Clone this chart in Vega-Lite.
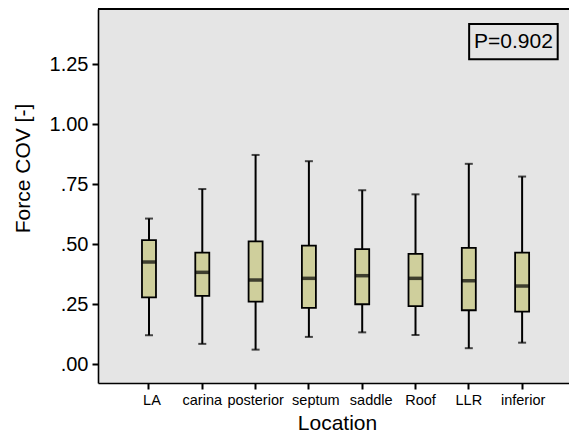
{
  "$schema": "https://vega.github.io/schema/vega-lite/v6.json",
  "width": 471,
  "height": 374,
  "autosize": {"type": "none"},
  "padding": {"left": 98, "top": 9, "right": 0, "bottom": 55},
  "background": "white",
  "config": {
    "font": "Liberation Sans",
    "view": {"fill": "#e5e5e5", "stroke": null},
    "axis": {"grid": false, "domainColor": "black", "domainWidth": 1.6, "tickColor": "black", "tickWidth": 2, "tickSize": 6, "labelColor": "black", "titleColor": "black", "titleFontWeight": "normal", "labelFont": "Liberation Sans", "titleFont": "Liberation Sans"}
  },
  "data": {
    "values": [
      {"loc": "LA", "min": 0.121, "q1": 0.279, "median": 0.426, "q3": 0.517, "max": 0.607},
      {"loc": "carina", "min": 0.085, "q1": 0.285, "median": 0.383, "q3": 0.465, "max": 0.730},
      {"loc": "posterior", "min": 0.061, "q1": 0.261, "median": 0.351, "q3": 0.512, "max": 0.872},
      {"loc": "septum", "min": 0.114, "q1": 0.235, "median": 0.358, "q3": 0.494, "max": 0.846},
      {"loc": "saddle", "min": 0.133, "q1": 0.250, "median": 0.369, "q3": 0.480, "max": 0.725},
      {"loc": "Roof", "min": 0.122, "q1": 0.242, "median": 0.358, "q3": 0.460, "max": 0.708},
      {"loc": "LLR", "min": 0.067, "q1": 0.225, "median": 0.348, "q3": 0.485, "max": 0.835},
      {"loc": "inferior", "min": 0.090, "q1": 0.219, "median": 0.326, "q3": 0.465, "max": 0.782}
    ]
  },
  "layer": [
    {
      "layer": [
        {
          "mark": {"type": "rule", "color": "black", "strokeWidth": 2},
          "encoding": {
            "x": {"field": "loc", "type": "nominal", "sort": null,
                  "scale": {"paddingInner": 0, "paddingOuter": 0.418, "align": 0.546},
                  "axis": {"title": "Location", "labelAngle": 0, "labelFontSize": 14.5, "labelPadding": 4,
                           "labelOffset": {"condition": [
                             {"test": "datum.value === 'LA'", "value": 3},
                             {"test": "datum.value === 'septum'", "value": 7},
                             {"test": "datum.value === 'saddle'", "value": 9},
                             {"test": "datum.value === 'Roof'", "value": 5},
                             {"test": "datum.value === 'inferior'", "value": 1}
                           ], "value": 0},
                           "titleFontSize": 21, "titleX": 239, "titleY": 46, "titleBaseline": "alphabetic", "titleAnchor": null, "titleAlign": "center"}},
            "y": {"field": "min", "type": "quantitative",
                  "scale": {"domain": [-0.078, 1.48], "nice": false, "zero": false},
                  "axis": {"title": "Force COV [-]", "values": [0, 0.25, 0.5, 0.75, 1, 1.25],
                           "labelExpr": "datum.value < 1 ? replace(format(datum.value, '.2f'), '0.', '.') : format(datum.value, '.2f')",
                           "labelFontSize": 20, "labelPadding": 4, "titleFontSize": 21, "titleAngle": -90, "titleX": -75, "titleY": 159, "titleAlign": "center", "titleBaseline": "middle", "titleAnchor": null}},
            "y2": {"field": "max"}
          }
        },
        {
          "mark": {"type": "tick", "color": "black", "size": 8, "thickness": 2},
          "encoding": {"x": {"field": "loc", "type": "nominal", "sort": null}, "y": {"field": "min", "type": "quantitative"}}
        },
        {
          "mark": {"type": "tick", "color": "black", "size": 8, "thickness": 2},
          "encoding": {"x": {"field": "loc", "type": "nominal", "sort": null}, "y": {"field": "max", "type": "quantitative"}}
        },
        {
          "mark": {"type": "bar", "size": 14, "fill": "#cfcf9c", "stroke": "black", "strokeWidth": 1.8},
          "encoding": {"x": {"field": "loc", "type": "nominal", "sort": null}, "y": {"field": "q1", "type": "quantitative"}, "y2": {"field": "q3"}}
        },
        {
          "mark": {"type": "tick", "color": "black", "size": 14, "thickness": 3.5},
          "encoding": {"x": {"field": "loc", "type": "nominal", "sort": null}, "y": {"field": "median", "type": "quantitative"}}
        },
        {
          "mark": {"type": "rule", "color": "black", "strokeWidth": 1.6},
          "encoding": {"y": {"datum": 1.48, "type": "quantitative"}}
        }
      ]
    },
    {
      "data": {"values": [{"label": "P=0.902", "x1": 0.788, "x2": 0.976, "xc": 0.882, "y1": 1.271, "y2": 1.418, "yc": 1.344}]},
      "layer": [
        {
          "mark": {"type": "rect", "fill": null, "fillOpacity": 0, "stroke": "black", "strokeWidth": 2},
          "encoding": {
            "x": {"field": "x1", "type": "quantitative", "scale": {"domain": [0, 1], "nice": false, "zero": false}, "axis": null},
            "x2": {"field": "x2"},
            "y": {"field": "y1", "type": "quantitative"},
            "y2": {"field": "y2"}
          }
        },
        {
          "mark": {"type": "text", "fontSize": 21, "font": "Liberation Sans", "color": "black", "align": "center", "baseline": "middle"},
          "encoding": {
            "x": {"field": "xc", "type": "quantitative", "scale": {"domain": [0, 1], "nice": false, "zero": false}, "axis": null},
            "y": {"field": "yc", "type": "quantitative"},
            "text": {"field": "label"}
          }
        }
      ]
    }
  ],
  "resolve": {"scale": {"x": "independent"}}
}
